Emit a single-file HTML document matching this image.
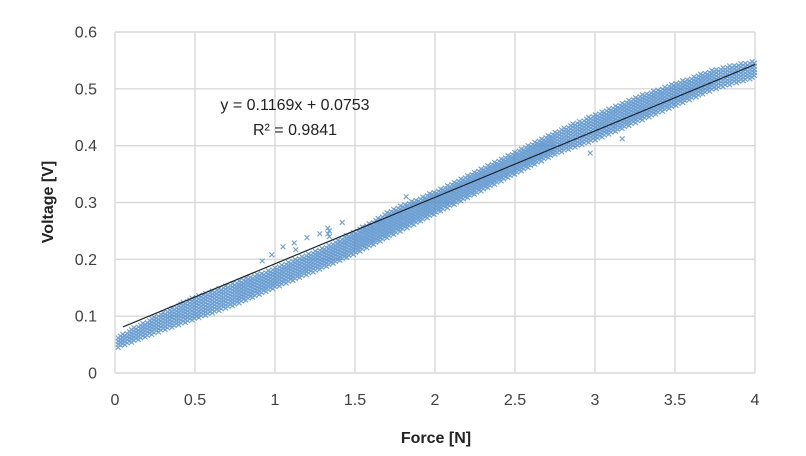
<!DOCTYPE html>
<html><head><meta charset="utf-8"><style>
html,body{margin:0;padding:0;background:#fff;}
svg{display:block;font-family:"Liberation Sans",Arial,sans-serif;}
</style></head><body>
<svg id="chart" width="806" height="456" viewBox="0 0 806 456">
<g id="grid"></g>
<g id="points"></g>
<g id="trend"></g>
<g id="ticks"></g>
<text x="295" y="110" font-size="16" fill="#222" text-anchor="middle">y = 0.1169x + 0.0753</text>
<text x="295" y="135" font-size="16" fill="#222" text-anchor="middle">R² = 0.9841</text>
<text x="436" y="443" font-size="16" font-weight="bold" fill="#222" text-anchor="middle">Force [N]</text>
<text transform="translate(53,202) rotate(-90)" font-size="16" font-weight="bold" fill="#222" text-anchor="middle">Voltage [V]</text>
</svg>
<script>
const xTicks=[0,0.5,1,1.5,2,2.5,3,3.5,4];
const xTickLabels=["0","0.5","1","1.5","2","2.5","3","3.5","4"];
const yTicks=[0,0.1,0.2,0.3,0.4,0.5,0.6];
const yTickLabels=["0","0.1","0.2","0.3","0.4","0.5","0.6"];
const bandX=[0.02,0.25,0.5,0.75,1.0,1.3,1.5,1.75,2.0,2.25,2.5,2.75,3.0,3.25,3.5,3.75,4.0];
const bandLow=[0.045,0.07,0.095,0.12,0.15,0.185,0.21,0.245,0.28,0.315,0.35,0.385,0.41,0.44,0.47,0.50,0.52];
const bandHigh=[0.065,0.10,0.135,0.16,0.185,0.22,0.25,0.29,0.32,0.355,0.39,0.425,0.455,0.485,0.51,0.535,0.55];
const outlierX=[0.92,0.98,1.05,1.12,1.13,1.2,1.28,1.42,1.33,1.33,1.34,1.34,2.68,2.68,2.69,2.97,3.17,1.82,2.1];
const outlierY=[0.197,0.208,0.222,0.229,0.217,0.238,0.245,0.265,0.255,0.245,0.25,0.24,0.41,0.4,0.395,0.387,0.412,0.31,0.325];
const slope=0.1169, intercept=0.0753, trendStart=0.05, trendEnd=4;
const NS='http://www.w3.org/2000/svg';
const X0=115,X1=755,Y0=373,Y1=32;
const sx=v=>X0+(v-0)/(4-0)*(X1-X0);
const sy=v=>Y0-(v-0)/(0.6-0)*(Y0-Y1);
function mk(tag,attrs,parent){const e=document.createElementNS(NS,tag);for(const k in attrs)e.setAttribute(k,attrs[k]);parent.appendChild(e);return e;}
const grid=document.getElementById('grid'),ticks=document.getElementById('ticks');
xTicks.forEach((t,i)=>{
  const l=mk('line',{x1:sx(t),x2:sx(t),y1:Y1,y2:Y0,stroke:'#d9d9d9','stroke-width':1.4},grid);
  
  
  const tx=mk('text',{x:sx(t),y:405,'font-size':16,fill:'#404040','text-anchor':'middle'},ticks);
  tx.textContent=xTickLabels[i];
  
  
});
yTicks.forEach((t,i)=>{
  const l=mk('line',{x1:X0,x2:X1,y1:sy(t),y2:sy(t),stroke:'#d9d9d9','stroke-width':1.4},grid);
  
  
  const tx=mk('text',{x:97,y:sy(t)+5.5,'font-size':16,fill:'#404040','text-anchor':'end'},ticks);
  tx.textContent=yTickLabels[i];
  
  
});
function interp(arr,x){for(let i=0;i<bandX.length-1;i++){if(x<=bandX[i+1]){const f=(x-bandX[i])/(bandX[i+1]-bandX[i]);return arr[i]+f*(arr[i+1]-arr[i]);}}return arr[arr.length-1];}
const pts=document.getElementById('points');
let d='';
const r=2.4;
function cross(px,py){d+=`M${(px-r).toFixed(1)} ${(py-r).toFixed(1)}L${(px+r).toFixed(1)} ${(py+r).toFixed(1)}M${(px-r).toFixed(1)} ${(py+r).toFixed(1)}L${(px+r).toFixed(1)} ${(py-r).toFixed(1)}`;}
let col=0;
for(let x=bandX[0];x<=bandX[bandX.length-1]+1e-9;x+=0.014){
  const lo=interp(bandLow,x),hi=interp(bandHigh,x);
  const off=(col%3)*0.0018;col++;
  for(let y=lo+off;y<=hi;y+=0.0055){cross(sx(x),sy(y));}
}
outlierX.forEach((x,i)=>cross(sx(x),sy(outlierY[i])));
const p=mk('path',{d:d,stroke:'#4a88c8','stroke-width':1.1,fill:'none','stroke-opacity':0.8},pts);


const tl=mk('line',{x1:sx(trendStart),y1:sy(slope*trendStart+intercept),x2:sx(trendEnd),y2:sy(slope*trendEnd+intercept),stroke:'#1a2530','stroke-width':1.2},document.getElementById('trend'));


</script>
</body></html>
